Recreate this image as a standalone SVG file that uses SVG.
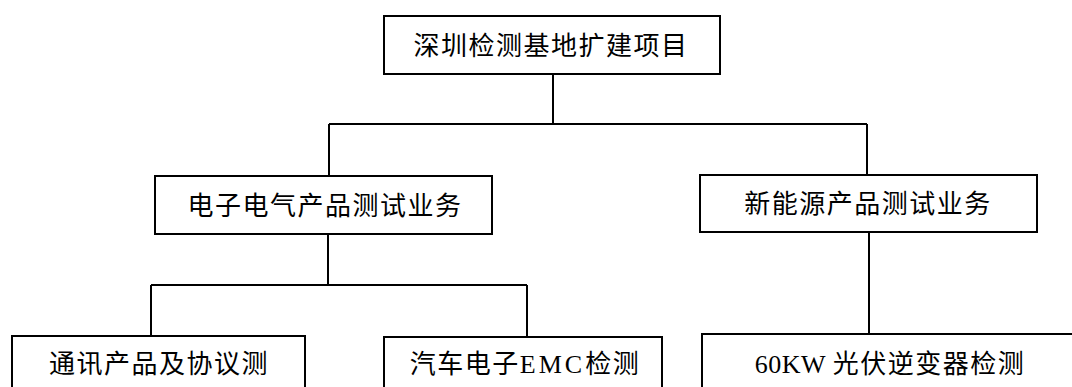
<svg xmlns="http://www.w3.org/2000/svg" width="1072" height="387" viewBox="0 0 1072 387">
<style>
.box{fill:#fff;stroke:#000;stroke-width:2}
.ln{fill:none;stroke:#000;stroke-width:2}
text{font-family:"Liberation Serif","Noto Sans CJK SC",serif;font-size:26px;letter-spacing:1.5px;fill:#000;text-anchor:middle}
.lat{letter-spacing:0.5px}
</style>
<rect width="1072" height="387" fill="#fff"/>
<g id="connectors">
<path class="ln" d="M553 74V124M329 124H867M329 124V176M867 124V175"/>
<path class="ln" d="M328 234V285M151 285H527M151 285V336M527 285V337"/>
<path class="ln" d="M869 232V334"/>
</g>
<g id="root"><rect class="box" x="384" y="16" width="336" height="58"/><text x="551" y="55">深圳检测基地扩建项目</text></g>
<g id="elec"><rect class="box" x="155" y="176" width="337" height="58"/><text x="325" y="215">电子电气产品测试业务</text></g>
<g id="newenergy"><rect class="box" x="700" y="175" width="337" height="57"/><text x="868" y="213">新能源产品测试业务</text></g>
<g id="comm"><rect class="box" x="12" y="336" width="293" height="70"/><text x="159" y="373">通讯产品及协议测</text></g>
<g id="auto"><rect class="box" x="384" y="337" width="278" height="70"/><text x="525" y="373">汽车电子<tspan class="lat" style="letter-spacing:3px">EMC</tspan>检测</text></g>
<g id="pv"><rect class="box" x="702" y="334" width="380" height="70"/><text x="890" y="373"><tspan class="lat">60KW </tspan>光伏逆变器检测</text></g>
</svg>
